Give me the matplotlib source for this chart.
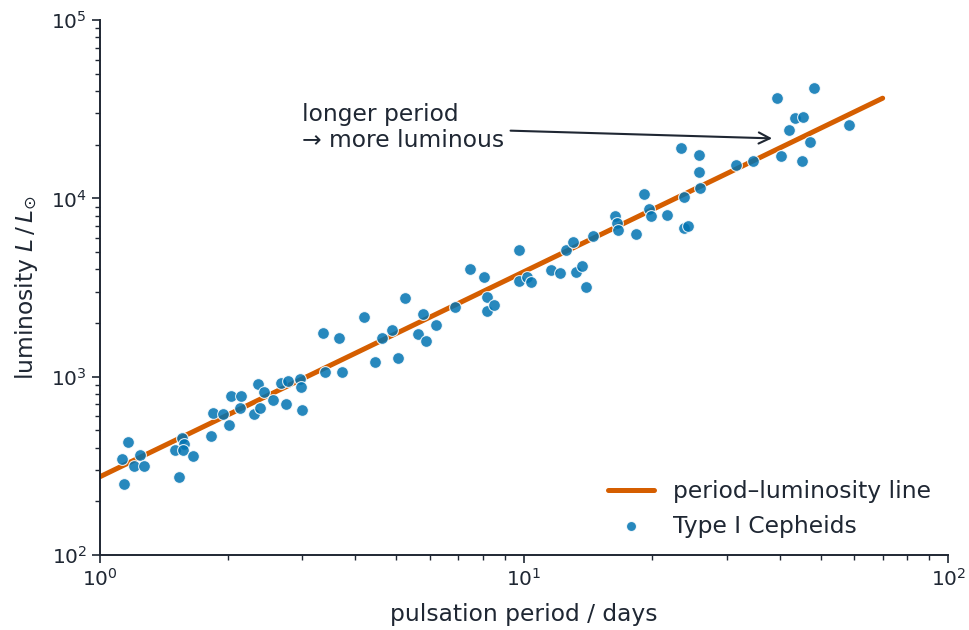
import numpy as np
import matplotlib
matplotlib.use("Agg")
import matplotlib.pyplot as plt
import seaborn as sns

# pulsation period (days) and luminosity (L_sun) of the Type I Cepheids
period = [1.127, 1.164, 1.139, 1.203, 1.243, 1.270, 1.536, 1.561, 1.578, 1.503,
          1.569, 1.657, 1.827, 1.848, 1.950, 2.015, 2.037, 2.150, 2.139, 2.308,
          2.384, 2.359, 2.437, 2.559, 2.673, 2.776, 2.746, 2.963, 2.979, 2.995,
          3.357, 3.394, 3.722, 3.662, 4.195, 4.625, 4.883, 4.452, 5.044, 5.241,
          5.778, 5.623, 5.873, 6.201, 6.875, 7.460, 8.049, 8.180, 8.180, 8.497,
          9.732, 9.732, 10.16, 10.39, 11.58, 12.16, 12.56, 13.05, 13.27, 13.70,
          14.01, 14.55, 16.39, 16.57, 16.66, 18.37, 19.19, 19.72, 19.93, 21.74,
          23.84, 24.37, 23.84, 26.01, 25.87, 23.46, 25.87, 31.62, 34.68, 39.52,
          43.57, 45.50, 42.17, 40.37, 47.26, 45.27, 48.31, 58.42]
luminosity = [346, 431, 251, 316, 365, 316, 274, 454, 421, 389,
              389, 360, 467, 628, 620, 537, 782, 782, 670, 620,
              670, 914, 824, 743, 925, 950, 705, 975, 879, 653,
              1766, 1067, 1067, 1656, 2173, 1656, 1837, 1215, 1279, 2779,
              2259, 1744, 1593, 1960, 2473, 4043, 3648, 2812, 2350, 2535,
              5164, 3459, 3648, 3420, 3945, 3839, 5164, 5662, 3890, 4206,
              3206, 6194, 7925, 7241, 6695, 6281, 10660, 8674, 7925, 8024,
              6871, 6962, 10130, 11380, 14000, 19090, 17450, 15330, 16140, 36460,
              28140, 28510, 24100, 17220, 20640, 16140, 41500, 25700]

# period-luminosity relation (straight on log-log axes)
line_period = [1.0, 70.0]
line_lum = [275, 36500]

sns.set_theme(style="ticks")
text_col = "#1f2733"
plt.rcParams["font.family"] = ["DejaVu Sans"]
plt.rcParams.update({"text.color": text_col, "axes.labelcolor": text_col,
                     "xtick.color": text_col, "ytick.color": text_col,
                     "axes.edgecolor": text_col})
pal = sns.color_palette("colorblind")

fig = plt.figure(figsize=(9.69, 6.3), dpi=100)
ax = fig.add_axes([0.1032, 0.119, 0.8755, 0.849])

ax.plot(line_period, line_lum, color=pal[3], lw=3.6, label="period\u2013luminosity line", zorder=2)
ax.scatter(period, luminosity, s=72, color=pal[0], alpha=0.85, edgecolor="white",
           linewidth=0.8, label="Type I Cepheids", zorder=3)

ax.set_xscale("log")
ax.set_yscale("log")
ax.set_xlim(1, 100)
ax.set_ylim(100, 1e5)
ax.set_xlabel("pulsation period / days", fontsize=16.8, labelpad=9)
ax.set_ylabel(r"luminosity $L\,/\,L_{\odot}$", fontsize=16.8, labelpad=8)
ax.tick_params(axis="both", which="major", labelsize=14.5, length=6, width=1.2)
ax.tick_params(axis="both", which="minor", length=3.5, width=1.0)
for s in ["left", "bottom"]:
    ax.spines[s].set_linewidth(1.4)
sns.despine(ax=ax)

ax.annotate("longer period\n\u2192 more luminous", xy=(39.0, 21700), xytext=(3.0, 25000),
            ha="left", va="center", fontsize=16.8, color=text_col,
            arrowprops=dict(arrowstyle="->", color=text_col, lw=1.5, mutation_scale=20))

ax.legend(loc="lower right", frameon=False, fontsize=16.8, markerscale=0.85,
          borderaxespad=0.35)

fig.savefig("out.png", dpi=100)
